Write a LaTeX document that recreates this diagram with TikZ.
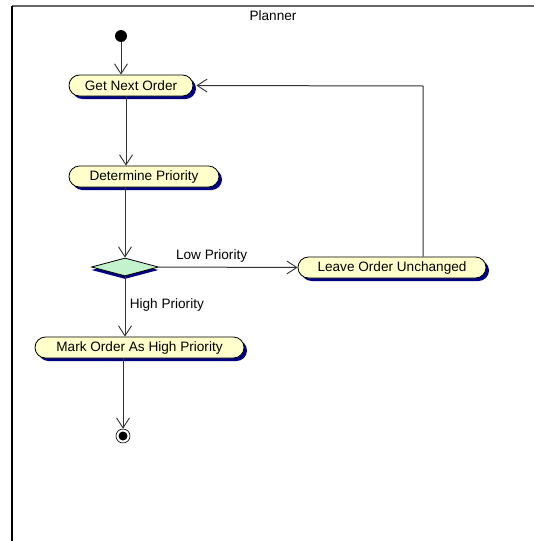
\documentclass[tikz,border=0pt]{standalone}
\usepackage{fontspec}
\setmainfont{Liberation Sans}
\usetikzlibrary{arrows.meta,shapes.misc,shapes.geometric,shadows}
\definecolor{actfill}{RGB}{255,255,204}
\definecolor{decfill}{RGB}{196,242,204}
\definecolor{shadowc}{RGB}{0,0,128}
\tikzset{
  act/.style={rounded rectangle, draw=black, line width=0.8pt, fill=actfill,
    minimum height=21pt, inner sep=0pt, font=\fontsize{13.6}{15}\selectfont,
    drop shadow={shadow xshift=3pt, shadow yshift=-3pt, fill=shadowc, opacity=1}},
  dec/.style={diamond, draw=black, line width=0.8pt, fill=decfill, inner sep=0pt,
    minimum width=67pt, minimum height=18pt,
    drop shadow={shadow xshift=0pt, shadow yshift=-3pt, fill=shadowc, opacity=1}},
  flow/.style={draw=black!80, line width=1pt, -{Straight Barb[length=10pt,width=13pt,line width=0.9pt]}},
  lbl/.style={font=\fontsize{13.6}{15}\selectfont},
}
\begin{document}
\begin{tikzpicture}[x=1pt,y=-1pt]
\useasboundingbox (0,0) rectangle (534,541);
\fill[white] (0,0) rectangle (534,541);
\draw[gray!80!black, line width=1.5pt] (534,6) -- (12,6);
\draw[black, line width=1.5pt] (12,6) -- (12,541);
\node[lbl] (title) at (273,16) {Planner};
\node[circle, fill=black, minimum size=12pt, inner sep=0pt] (start) at (121,36) {};
\node[act, minimum width=124pt] (get) at (131,85.5) {Get Next Order};
\node[act, minimum width=150pt] (det) at (144,176.5) {Determine Priority};
\node[dec] (dia) at (125,267) {};
\node[act, minimum width=188pt] (leave) at (392,267.5) {Leave Order Unchanged};
\node[act, minimum width=209pt] (mark) at (139.5,347.5) {Mark Order As High Priority};
\node[circle, draw=black, fill=white, line width=0.6pt, minimum size=14pt, inner sep=0pt] (end) at (123,436) {};
\node[circle, fill=black, minimum size=9pt, inner sep=0pt] (endin) at (end) {};
\coordinate (corner) at (423,86);
\draw[flow] (start) -- (start |- get.north);
\draw[flow] (get.south -| 126,0) -- (det.north -| 126,0);
\draw[flow] (det.south -| dia) -- (dia.north);
\draw[flow] (dia.east) -- node[lbl, above, pos=0.38, yshift=1pt] {Low Priority} (leave.west);
\draw[flow] (dia.south) -- node[lbl, right, pos=0.47, xshift=1pt] {High Priority} (mark.north -| dia);
\draw[flow] (mark.south -| end) -- (end.north);
\draw[flow] (leave.north -| corner) -- (corner) -- ([xshift=3pt]get.east);
\end{tikzpicture}
\end{document}
